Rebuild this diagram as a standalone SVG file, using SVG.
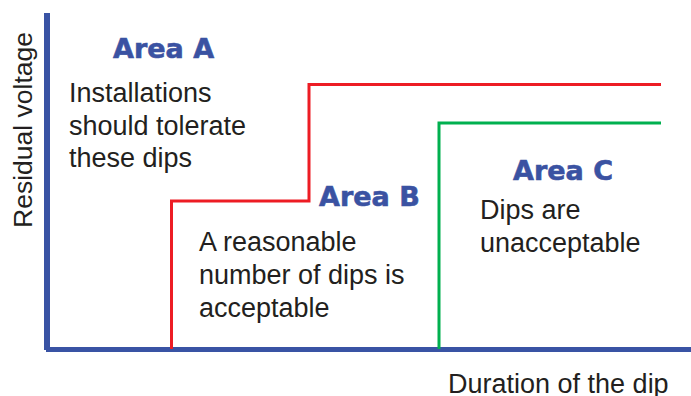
<svg xmlns="http://www.w3.org/2000/svg" width="691" height="396" viewBox="0 0 691 396">
  <style>
    .body { font-family: "Liberation Sans", Arial, sans-serif; font-size: 27px; fill: #231f20; }
    .area { font-family: "DejaVu Sans", Verdana, sans-serif; font-weight: bold; font-size: 27px; fill: #3a52a2; stroke: #3a52a2; stroke-width: 0.6; }
    .axis { stroke: #3953a4; fill: none; }
    .limit { fill: none; stroke-width: 3; stroke-linejoin: miter; }
  </style>
  <rect width="691" height="396" fill="#ffffff"/>

  <!-- axes -->
  <g id="axes">
    <line class="axis" x1="47" y1="13" x2="47" y2="350" stroke-width="6"/>
    <line class="axis" x1="46" y1="349.5" x2="691" y2="349.5" stroke-width="5"/>
    <text class="body" transform="translate(32,130) rotate(-90)" text-anchor="middle" style="font-size:26.5px">Residual voltage</text>
    <text class="body" x="448" y="393">Duration of the dip</text>
  </g>

  <!-- boundary curves -->
  <g id="connectors">
    <path class="limit" stroke="#ed1c24" d="M171.5 349 V201 H309 V84.5 H661"/>
    <path class="limit" stroke="#00b04f" d="M439 349 V123 H661"/>
  </g>

  <g id="area-a">
    <text class="area" x="113" y="58">Area A</text>
    <text class="body" x="69" y="101.7">Installations</text>
    <text class="body" x="69" y="134.5">should tolerate</text>
    <text class="body" x="69" y="167">these dips</text>
  </g>

  <g id="area-b">
    <text class="area" x="319" y="206">Area B</text>
    <text class="body" x="199" y="251">A reasonable</text>
    <text class="body" x="199" y="283.5">number of dips is</text>
    <text class="body" x="199" y="316.5">acceptable</text>
  </g>

  <g id="area-c">
    <text class="area" x="513" y="180">Area C</text>
    <text class="body" x="480" y="218.5">Dips are</text>
    <text class="body" x="480" y="251.5">unacceptable</text>
  </g>
</svg>
